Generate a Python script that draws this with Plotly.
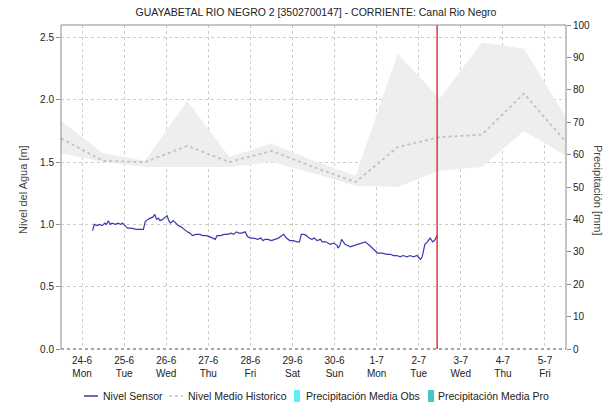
import plotly.graph_objects as go

TITLE = "GUAYABETAL RIO NEGRO 2 [3502700147] - CORRIENTE: Canal Rio Negro"
FONT = "Liberation Sans, Arial, sans-serif"

# --- Nivel sensor (m) ---
sensor_time = [
    "2019-06-24 06:00", "2019-06-24 07:00", "2019-06-24 08:30", "2019-06-24 10:00",
    "2019-06-24 11:30", "2019-06-24 13:00", "2019-06-24 14:00", "2019-06-24 15:00",
    "2019-06-24 16:00", "2019-06-24 17:00", "2019-06-24 19:00", "2019-06-24 20:30",
    "2019-06-24 22:00", "2019-06-24 23:00", "2019-06-25 00:30", "2019-06-25 02:00",
    "2019-06-25 04:00", "2019-06-25 07:00", "2019-06-25 09:00", "2019-06-25 11:00",
    "2019-06-25 12:00", "2019-06-25 13:30", "2019-06-25 15:00", "2019-06-25 16:30",
    "2019-06-25 17:30", "2019-06-25 18:30", "2019-06-25 19:30", "2019-06-25 20:30",
    "2019-06-25 22:00", "2019-06-26 00:30", "2019-06-26 01:30", "2019-06-26 02:30",
    "2019-06-26 04:00", "2019-06-26 05:30", "2019-06-26 07:00", "2019-06-26 08:30",
    "2019-06-26 10:00", "2019-06-26 12:00", "2019-06-26 13:30", "2019-06-26 15:00",
    "2019-06-26 17:00", "2019-06-26 19:00", "2019-06-26 21:00", "2019-06-26 23:00",
    "2019-06-27 01:00", "2019-06-27 03:00", "2019-06-27 04:00", "2019-06-27 05:00",
    "2019-06-27 07:00", "2019-06-27 09:00", "2019-06-27 11:00", "2019-06-27 13:00",
    "2019-06-27 14:30", "2019-06-27 16:00", "2019-06-27 17:30", "2019-06-27 19:00",
    "2019-06-27 21:00", "2019-06-27 22:30", "2019-06-28 00:00", "2019-06-28 02:00",
    "2019-06-28 04:00", "2019-06-28 06:00", "2019-06-28 07:00", "2019-06-28 08:30",
    "2019-06-28 10:00", "2019-06-28 12:00", "2019-06-28 14:00", "2019-06-28 16:00",
    "2019-06-28 18:00", "2019-06-28 19:00", "2019-06-28 20:30", "2019-06-28 22:30",
    "2019-06-29 00:30", "2019-06-29 02:30", "2019-06-29 04:00", "2019-06-29 05:00",
    "2019-06-29 06:30", "2019-06-29 08:00", "2019-06-29 09:30", "2019-06-29 11:00",
    "2019-06-29 12:30", "2019-06-29 14:00", "2019-06-29 16:00", "2019-06-29 17:00",
    "2019-06-29 19:00", "2019-06-29 21:30", "2019-06-29 23:30", "2019-06-30 01:30",
    "2019-06-30 02:00", "2019-06-30 03:00", "2019-06-30 04:00", "2019-06-30 05:00",
    "2019-06-30 06:00", "2019-06-30 07:30", "2019-06-30 09:00", "2019-06-30 11:00",
    "2019-06-30 13:00", "2019-06-30 15:00", "2019-06-30 17:30", "2019-06-30 20:00",
    "2019-06-30 22:00", "2019-07-01 00:30", "2019-07-01 03:00", "2019-07-01 06:00",
    "2019-07-01 08:00", "2019-07-01 09:30", "2019-07-01 11:30", "2019-07-01 13:30",
    "2019-07-01 15:00", "2019-07-01 16:30", "2019-07-01 17:30", "2019-07-01 19:00",
    "2019-07-01 21:00", "2019-07-01 23:00", "2019-07-02 01:00", "2019-07-02 02:00",
    "2019-07-02 03:30", "2019-07-02 05:00", "2019-07-02 06:30", "2019-07-02 08:00",
    "2019-07-02 09:00", "2019-07-02 10:30",
]
sensor_level = [
    0.95, 1.00, 0.99, 1.00,
    0.99, 1.01, 1.00, 1.03,
    1.00, 1.01, 1.00, 1.01,
    1.00, 1.01, 0.99, 0.97,
    0.97, 0.96, 0.96, 0.96,
    1.02, 1.04, 1.05, 1.06,
    1.08, 1.04, 1.05, 1.03,
    1.04, 1.07, 1.03, 1.01,
    1.03, 1.01, 0.99, 0.98,
    0.96, 0.94, 0.93, 0.91,
    0.92, 0.92, 0.91, 0.91,
    0.90, 0.89, 0.88, 0.91,
    0.91, 0.92, 0.92, 0.93,
    0.92, 0.94, 0.93, 0.93,
    0.94, 0.90, 0.89, 0.89,
    0.88, 0.89, 0.87, 0.88,
    0.88, 0.87, 0.88, 0.89,
    0.91, 0.92, 0.89, 0.87,
    0.87, 0.86, 0.86, 0.92,
    0.92, 0.91, 0.89, 0.88,
    0.89, 0.87, 0.88, 0.86,
    0.86, 0.84, 0.85, 0.83,
    0.81, 0.83, 0.88, 0.86,
    0.84, 0.83, 0.82, 0.83,
    0.84, 0.85, 0.86, 0.83,
    0.80, 0.77, 0.77, 0.76,
    0.76, 0.75, 0.75, 0.74,
    0.75, 0.74, 0.74, 0.75,
    0.74, 0.75, 0.72, 0.74,
    0.84, 0.86, 0.89, 0.86,
    0.87, 0.91,
]

# --- Nivel medio historico y rango (m) ---
hist_time = [
    "2019-06-23 12:00", "2019-06-24 12:00", "2019-06-25 12:00", "2019-06-26 12:00",
    "2019-06-27 12:00", "2019-06-28 12:00", "2019-06-29 12:00", "2019-06-30 12:00",
    "2019-07-01 12:00", "2019-07-02 12:00", "2019-07-03 12:00", "2019-07-04 12:00",
    "2019-07-05 12:00",
]
hist_mean = [1.69, 1.51, 1.50, 1.63, 1.50, 1.59, 1.46, 1.34, 1.62, 1.70, 1.72, 2.05, 1.66]
hist_max = [1.83, 1.57, 1.51, 1.99, 1.54, 1.65, 1.51, 1.39, 2.37, 2.01, 2.46, 2.41, 1.86]
hist_min = [1.57, 1.50, 1.46, 1.46, 1.46, 1.50, 1.41, 1.31, 1.30, 1.43, 1.46, 1.75, 1.55]

# --- Precipitacion media (mm) ---
precip_days = [
    "2019-06-24 12:00", "2019-06-25 12:00", "2019-06-26 12:00", "2019-06-27 12:00",
    "2019-06-28 12:00", "2019-06-29 12:00", "2019-06-30 12:00", "2019-07-01 12:00",
    "2019-07-02 12:00", "2019-07-03 12:00", "2019-07-04 12:00", "2019-07-05 12:00",
]
precip_obs = [0, 0, 0, 0, 0, 0, 0, 0, 0, 0, 0, 0]
precip_pro = [0, 0, 0, 0, 0, 0, 0, 0, 0, 0, 0, 0]

now_time = "2019-07-02 10:30"

tick_vals = [
    "2019-06-24", "2019-06-25", "2019-06-26", "2019-06-27", "2019-06-28", "2019-06-29",
    "2019-06-30", "2019-07-01", "2019-07-02", "2019-07-03", "2019-07-04", "2019-07-05",
]
tick_text = [
    "24-6<br>Mon", "25-6<br>Tue", "26-6<br>Wed", "27-6<br>Thu", "28-6<br>Fri", "29-6<br>Sat",
    "30-6<br>Sun", "1-7<br>Mon", "2-7<br>Tue", "3-7<br>Wed", "4-7<br>Thu", "5-7<br>Fri",
]

x_range = ["2019-06-23 12:00", "2019-07-05 12:00"]

# plot area in pixels
W, H = 616, 403
L, R, T, B = 61, 566, 25, 349


def px_x(px):
    return (px - L) / (R - L)


def px_y(py):
    return (B - py) / (B - T)


BLUE = "#3a3ab0"
HIST = "#c2c2c2"
BAND = "#eeeeee"
GRID = "#cccccc"
OBS = "#5ff0f5"
PRO = "#45c6c3"

fig = go.Figure()

fig.add_trace(go.Scatter(x=hist_time, y=hist_min, mode="lines", line=dict(width=0),
                         hoverinfo="skip", showlegend=False))
fig.add_trace(go.Scatter(x=hist_time, y=hist_max, mode="lines", line=dict(width=0),
                         fill="tonexty", fillcolor=BAND, hoverinfo="skip", showlegend=False))
fig.add_trace(go.Scatter(x=hist_time, y=hist_mean, mode="lines", name="Nivel Medio Historico",
                         line=dict(color=HIST, width=1.8, dash="dot"), showlegend=False))
fig.add_trace(go.Bar(x=precip_days, y=precip_obs, name="Precipitación Media Obs",
                     marker_color=OBS, yaxis="y2", showlegend=False))
fig.add_trace(go.Bar(x=precip_days, y=precip_pro, name="Precipitación Media Pro",
                     marker_color=PRO, yaxis="y2", showlegend=False))
fig.add_trace(go.Scatter(x=sensor_time, y=sensor_level, mode="lines", name="Nivel Sensor",
                         line=dict(color=BLUE, width=1.2), showlegend=False))

shapes = [
    # current-time marker
    dict(type="line", xref="x", yref="paper", x0=now_time, x1=now_time, y0=0, y1=1,
         line=dict(color="#dd1c22", width=1.3)),
    # frame
    dict(type="line", xref="paper", yref="paper", x0=0, x1=1, y0=1, y1=1,
         line=dict(color="#8c8c8c", width=1)),
    dict(type="line", xref="paper", yref="paper", x0=0, x1=0, y0=0, y1=1,
         line=dict(color="#8c8c8c", width=1)),
    dict(type="line", xref="paper", yref="paper", x0=1, x1=1, y0=0, y1=1,
         line=dict(color="#8c8c8c", width=1)),
    dict(type="line", xref="paper", yref="paper", x0=0, x1=1, y0=0, y1=0,
         line=dict(color="#555555", width=1, dash="dot")),
]

annotations = []
leg_y = 396
# legend: Nivel Sensor
shapes.append(dict(type="line", xref="paper", yref="paper", x0=px_x(84), x1=px_x(98),
                   y0=px_y(leg_y), y1=px_y(leg_y), line=dict(color=BLUE, width=1.5)))
# legend: Nivel Medio Historico
shapes.append(dict(type="line", xref="paper", yref="paper", x0=px_x(169), x1=px_x(183),
                   y0=px_y(leg_y), y1=px_y(leg_y), line=dict(color=HIST, width=1.5, dash="dot")))
# legend: precip squares
shapes.append(dict(type="rect", xref="paper", yref="paper", x0=px_x(294), x1=px_x(300),
                   y0=px_y(leg_y + 6), y1=px_y(leg_y - 6), line=dict(width=0), fillcolor=OBS))
shapes.append(dict(type="rect", xref="paper", yref="paper", x0=px_x(428), x1=px_x(434),
                   y0=px_y(leg_y + 6), y1=px_y(leg_y - 6), line=dict(width=0), fillcolor=PRO))

for label, px in [("Nivel Sensor", 101), ("Nivel Medio Historico", 186),
                  ("Precipitación Media Obs", 304), ("Precipitación Media Pro", 436)]:
    annotations.append(dict(text=label, xref="paper", yref="paper", x=px_x(px), y=px_y(leg_y),
                            xanchor="left", yanchor="middle", showarrow=False,
                            font=dict(family=FONT, size=10.5, color="#222222")))

# axis titles
annotations.append(dict(text="Nivel del Agua [m]", xref="paper", yref="paper",
                        x=px_x(23), y=px_y(190), textangle=-90, showarrow=False,
                        xanchor="center", yanchor="middle",
                        font=dict(family=FONT, size=11, color="#444444")))
annotations.append(dict(text="Precipitación [mm]", xref="paper", yref="paper",
                        x=px_x(598), y=px_y(190), textangle=90, showarrow=False,
                        xanchor="center", yanchor="middle",
                        font=dict(family=FONT, size=11, color="#444444")))

fig.update_layout(
    width=W, height=H,
    margin=dict(l=L, r=W - R, t=T, b=H - B, pad=0),
    paper_bgcolor="white", plot_bgcolor="white",
    font=dict(family=FONT, size=10, color="#222222"),
    title=dict(text=TITLE, x=316 / W, xanchor="center", y=1 - 12 / H, yanchor="middle",
               font=dict(family=FONT, size=10.5, color="#222222")),
    showlegend=False,
    barmode="group",
    xaxis=dict(type="date", range=x_range, tickmode="array", tickvals=tick_vals,
               ticktext=tick_text, showgrid=True, gridcolor=GRID, griddash="dot",
               gridwidth=1, ticks="outside", ticklen=2, tickcolor="rgba(0,0,0,0)",
               showline=False, zeroline=False,
               tickfont=dict(family=FONT, size=10, color="#222222")),
    yaxis=dict(range=[0, 2.6], tickmode="array", tickvals=[0, 0.5, 1.0, 1.5, 2.0, 2.5],
               ticktext=["0.0", "0.5", "1.0", "1.5", "2.0", "2.5"],
               showgrid=True, gridcolor=GRID, griddash="dot", gridwidth=1,
               ticks="outside", ticklen=4, tickcolor="#8c8c8c", showline=False,
               zeroline=False, tickfont=dict(family=FONT, size=10, color="#222222")),
    yaxis2=dict(range=[0, 100], overlaying="y", side="right", dtick=10, showgrid=False,
                ticks="outside", ticklen=4, tickcolor="#8c8c8c", showline=False,
                zeroline=False, tickfont=dict(family=FONT, size=10, color="#222222")),
    shapes=shapes,
    annotations=annotations,
)

fig.write_html("out.html")
